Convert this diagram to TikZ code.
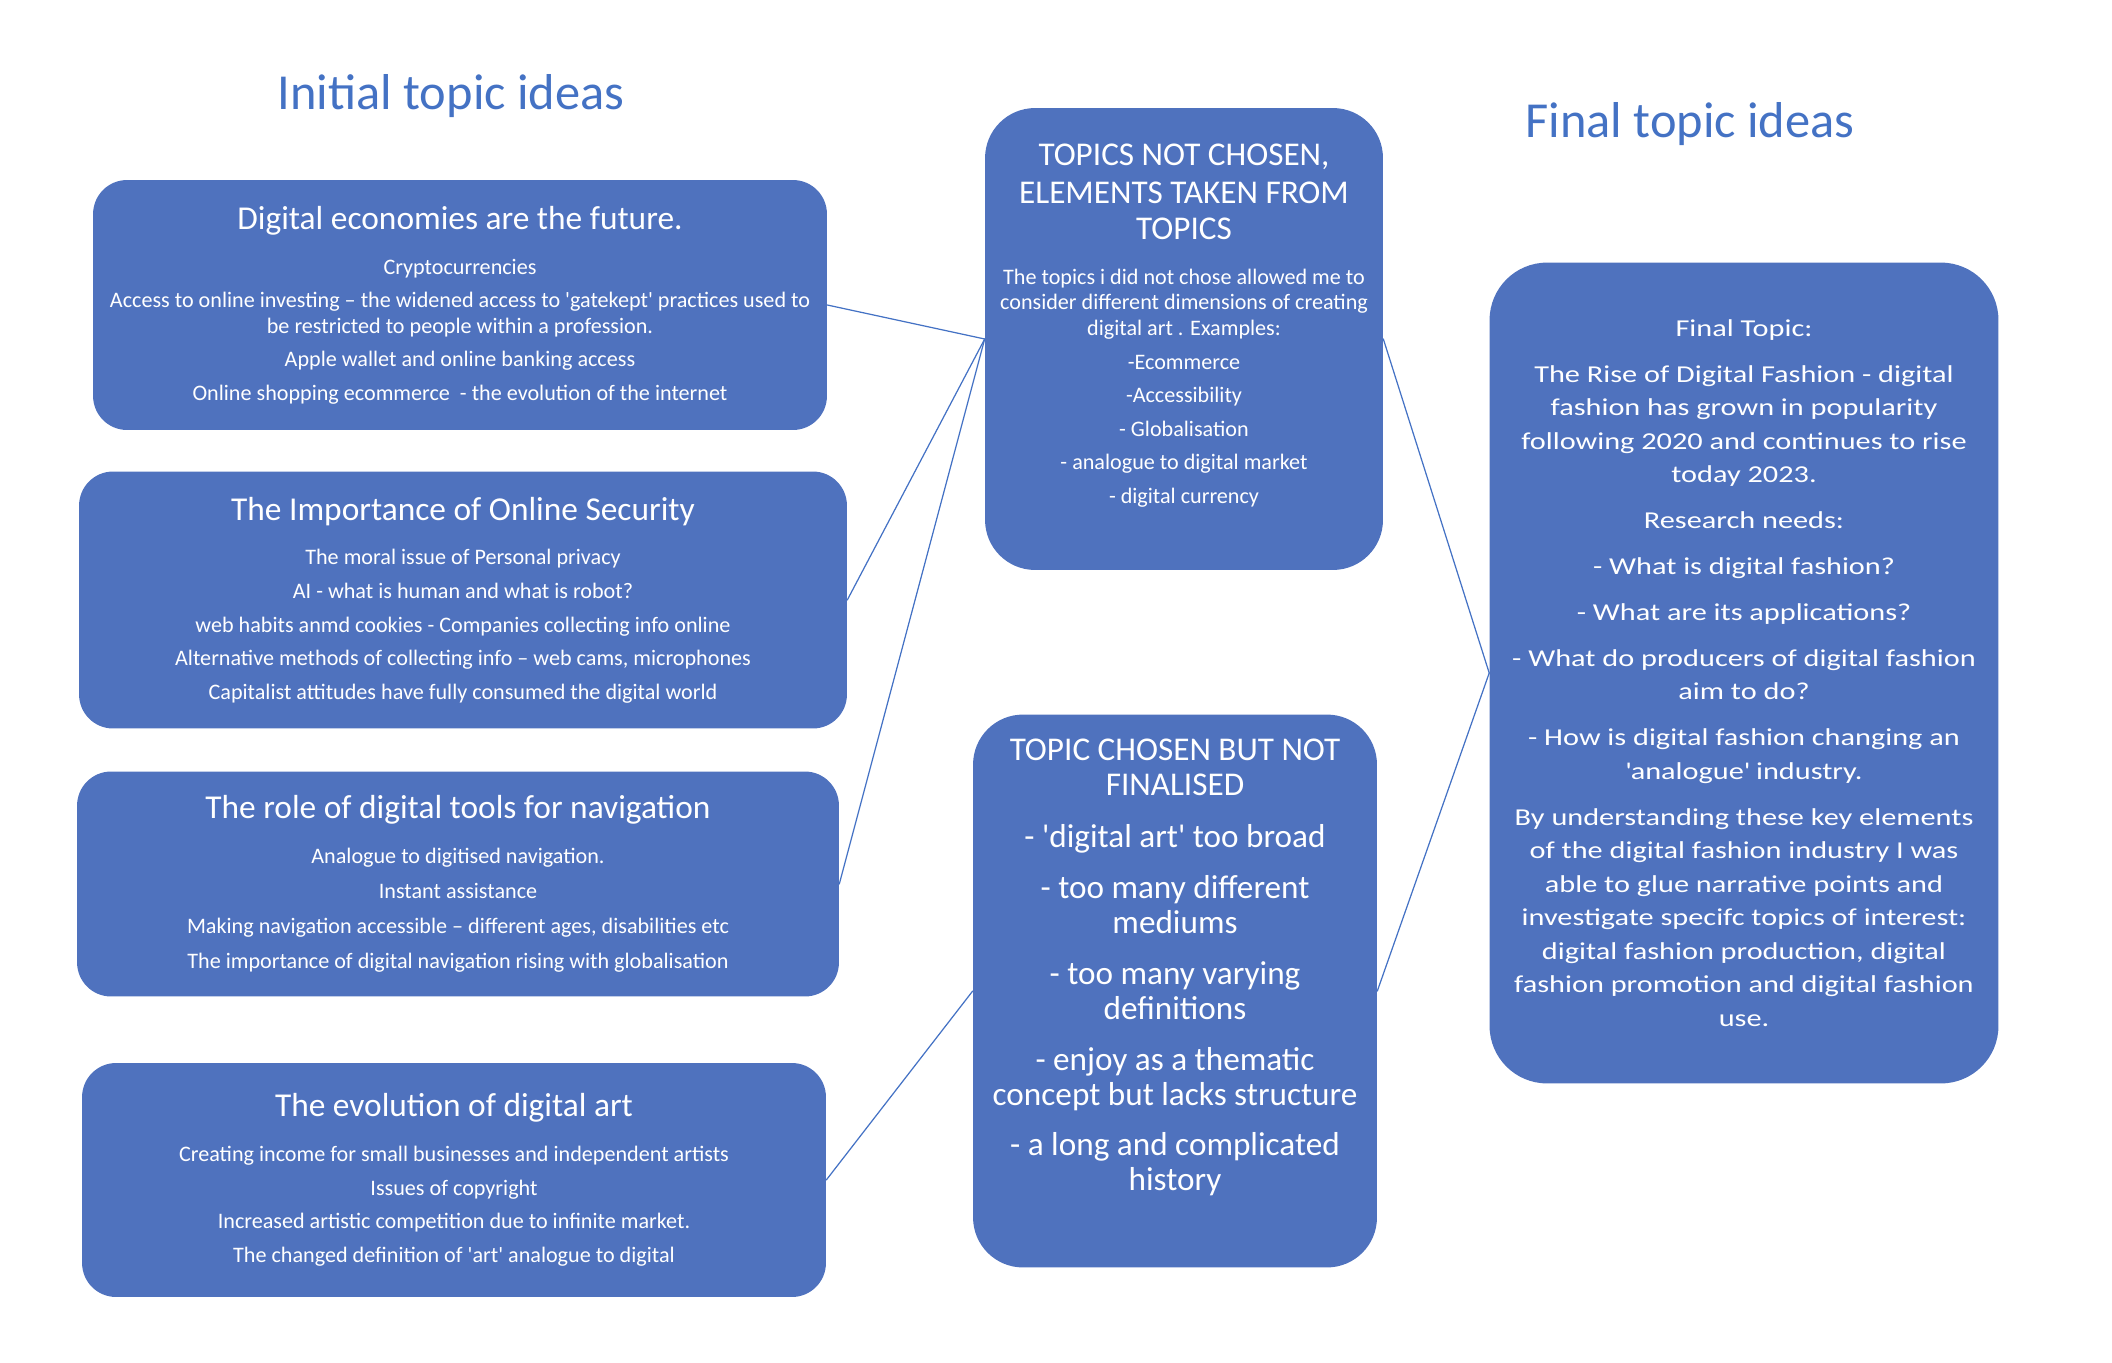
\documentclass[tikz,border=0pt]{standalone}
\usepackage{fontspec}
\setmainfont{Carlito}
\newfontfamily\widefont[FakeStretch=1.25]{Carlito}
\definecolor{boxblue}{RGB}{79,114,190}
\definecolor{lineblue}{RGB}{68,114,196}
\newcommand\sq{\textquotesingle}
\newcommand\boxtitle[1]{{\fontsize{19}{22}\selectfont #1}}
\newcommand\captitle[1]{{\fontsize{18.9}{21}\selectfont #1}}
\tikzset{
  topicbox/.style={fill=boxblue, text=white, align=center, inner sep=0pt, rounded corners=0.68cm},
  bodytext/.style={font=\fontsize{12.6}{14.5}\selectfont},
  link/.style={draw=lineblue, line width=0.7pt},
  heading/.style={text=lineblue, font=\fontsize{28.7}{32}\selectfont}
}
\begin{document}
\begin{tikzpicture}[x=0.02cm, y=-0.02cm, line join=round, line cap=round]
  \useasboundingbox (0,0) rectangle (2112,1362);
  \def\tgap{11pt} % gap under a box title
  \def\pgap{4.6pt} % gap between points
  \node[heading] (initial) at (451,96) {Initial topic ideas};
  \node[heading] (final) at (1690,124) {Final topic ideas};

  % initial topics, left column
  \node[topicbox, bodytext, minimum width=14.68cm, minimum height=5cm] (economy) at (460,305)
    {\boxtitle{Digital economies are the future.}\\[\tgap]
     Cryptocurrencies\\[\pgap]
     Access to online investing – the widened access to \sq gatekept\sq{} practices used to\\
     be restricted to people within a profession.\\[\pgap]
     Apple wallet and online banking access\\[\pgap]
     Online shopping ecommerce \ - the evolution of the internet};
  \node[topicbox, bodytext, minimum width=15.36cm, minimum height=5.14cm] (security) at (463,600)
    {\boxtitle{The Importance of Online Security}\\[\tgap]
     The moral issue of Personal privacy\\[\pgap]
     AI - what is human and what is robot?\\[\pgap]
     web habits anmd cookies - Companies collecting info online\\[\pgap]
     Alternative methods of collecting info – web cams, microphones\\[\pgap]
     Capitalist attitudes have fully consumed the digital world};
  \node[topicbox, bodytext, minimum width=15.24cm, minimum height=4.5cm] (navigation) at (458,884)
    {\boxtitle{The role of digital tools for navigation}\\[\tgap]
     Analogue to digitised navigation.\\[5.5pt]
     Instant assistance\\[5.5pt]
     Making navigation accessible – different ages, disabilities etc\\[5.5pt]
     The importance of digital navigation rising with globalisation};
  \node[topicbox, bodytext, minimum width=14.88cm, minimum height=4.68cm] (art) at (454,1180)
    {\boxtitle{The evolution of digital art}\\[\tgap]
     Creating income for small businesses and independent artists\\[\pgap]
     Issues of copyright\\[\pgap]
     Increased artistic competition due to infinite market.\\[\pgap]
     The changed definition of \sq art\sq{} analogue to digital};

  % middle column
  \node[topicbox, bodytext, rounded corners=1cm, minimum width=7.96cm, minimum height=9.24cm] (notchosen) at (1184,339)
    {\captitle{TOPICS NOT CHOSEN,}\\[6pt]
     \captitle{ELEMENTS TAKEN FROM}\\[6pt]
     \captitle{TOPICS}\\[\tgap]
     The topics i did not chose allowed me to\\
     consider different dimensions of creating\\
     digital art . Examples:\\[\pgap]
     -Ecommerce\\[\pgap]
     -Accessibility\\[\pgap]
     - Globalisation\\[\pgap]
     - analogue to digital market\\[\pgap]
     - digital currency\\[3pt]};
  \node[topicbox, rounded corners=1cm, font=\fontsize{18.9}{19.9}\selectfont, minimum width=8.08cm, minimum height=11.06cm] (chosen) at (1175,991)
    {TOPIC CHOSEN BUT NOT\\ FINALISED\\[10pt]
     - \sq digital art\sq{} too broad\\[9pt]
     - too many different\\ mediums\\[9pt]
     - too many varying\\ definitions\\[9pt]
     - enjoy as a thematic\\ concept but lacks structure\\[9pt]
     - a long and complicated\\ history\\[10pt]};

  % final topic
  \node[topicbox, rounded corners=1.15cm, font=\widefont\fontsize{13.8}{19.1}\selectfont, minimum width=10.18cm, minimum height=16.42cm] (finaltopic) at (1744,673)
    {Final Topic:\\[7pt]
     The Rise of Digital Fashion - digital\\ fashion has grown in popularity\\
     following 2020 and continues to rise\\ today 2023.\\[7pt]
     Research needs:\\[7pt]
     - What is digital fashion?\\[7pt]
     - What are its applications?\\[7pt]
     - What do producers of digital fashion\\ aim to do?\\[7pt]
     - How is digital fashion changing an\\ \sq analogue\sq{} industry.\\[7pt]
     By understanding these key elements\\ of the digital fashion industry I was\\
     able to glue narrative points and\\ investigate specifc topics of interest:\\
     digital fashion production, digital\\ fashion promotion and digital fashion\\ use.};

  % connectors
  \foreach \i in {economy,security,navigation} \draw[link] (\i.east) -- (notchosen.west);
  \draw[link] (art.east) -- (chosen.west);
  \draw[link] (notchosen.east) -- (finaltopic.west);
  \draw[link] (chosen.east) -- (finaltopic.west);
\end{tikzpicture}
\end{document}
